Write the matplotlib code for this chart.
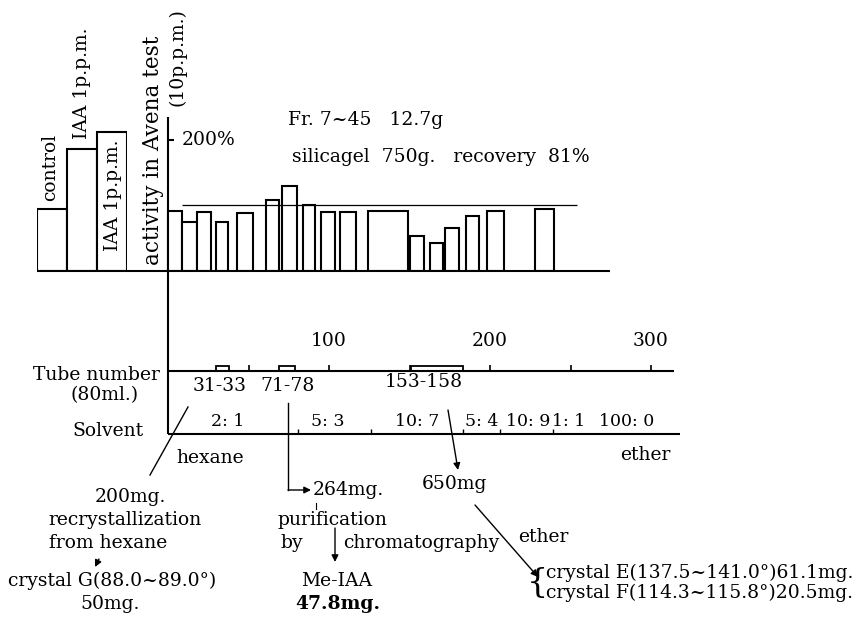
import matplotlib
matplotlib.use("Agg")
import matplotlib.pyplot as plt
from matplotlib.patches import Rectangle

plt.rcParams['font.family'] = ['DejaVu Serif']
plt.rcParams['font.size'] = 13.5

#-------data-------
# standards (activity %, Avena test)
std_names = ["control", "IAA 1p.p.m.", "IAA 1p.p.m."]
std_values = [95, 186, 212]

# fractions: tube range and activity %
frac_left = [0, 9, 18, 30, 43, 61, 71, 84, 95, 107, 124, 150, 163, 172, 185, 198, 228]
frac_right = [9, 18, 27, 37, 53, 69, 80, 91, 104, 117, 149, 159, 171, 181, 193, 209, 240]
frac_values = [92, 75, 90, 75, 89, 108, 130, 101, 90, 90, 92, 53, 43, 66, 84, 92, 94]
ref_level = 101
ref_span = [9, 254]

# crystal fractions on the tube axis
box_left = [30, 69, 151]
box_right = [38, 79, 183]
box_labels = ["31-33", "71-78", "153-158"]

tube_ticks = [50, 100, 150, 200, 250, 300]
tube_labels = ["", "100", "", "200", "", "300"]

solvent_bounds = [81, 126, 183, 206, 239]
solvent_pos = [37, 99, 155, 195, 224, 249, 285]
solvent_labels = ["2: 1", "5: 3", "10: 7", "5: 4", "10: 9", "1: 1", "100: 0"]

#-------layout-------
W, H = 856, 624
X0, PX_PER_TUBE = 168, 1.61
BASE, TOP = 271, 117
xlo, xhi = (0 - X0) / PX_PER_TUBE, (W - X0) / PX_PER_TUBE
LW = 1.5

fig = plt.figure(figsize=(W / 100, H / 100), dpi=100)

# lower part (tube / solvent axes), x in tube numbers, y in pixels
ax_low = fig.add_axes([0, 0, 1, 1])
ax_low.set_xlim(xlo, xhi)
ax_low.set_ylim(H, 0)
ax_low.axis("off")

# activity bars, x in tube numbers
ax_act = fig.add_axes([0, 1 - BASE / H, 1, (BASE - TOP) / H])
ax_act.set_xlim(xlo, xhi)
ax_act.set_ylim(0, 235)
ax_act.axis("off")
ax_act.bar(frac_left, frac_values,
           width=[r - l for l, r in zip(frac_left, frac_right)],
           align="edge", facecolor="white", edgecolor="black", linewidth=LW)
ax_act.hlines(ref_level, ref_span[0], ref_span[1], color="black", linewidth=0.9)
ax_act.hlines(200, 0, 3.5, color="black", linewidth=LW)

# standard bars
ax_std = fig.add_axes([37 / W, 1 - BASE / H, 90 / W, (BASE - TOP) / H])
ax_std.set_xlim(-0.5, 2.5)
ax_std.set_ylim(0, 235)
ax_std.axis("off")
ax_std.bar(range(len(std_values)), std_values, width=1,
           facecolor="white", edgecolor="black", linewidth=LW)

# tube axis
ax_low.hlines(371, 0, 314, color="black", linewidth=LW)
ax_low.vlines(tube_ticks, 365, 371, color="black", linewidth=1.2)
for t, lab in zip(tube_ticks, tube_labels):
    ax_low.text(t, 341, lab, ha="center", va="center")
for l, r, lab in zip(box_left, box_right, box_labels):
    ax_low.add_patch(Rectangle((l, 366), r - l, 5, facecolor="white",
                               edgecolor="black", linewidth=1.3))
ax_low.text(box_left[0] + 2, 386, box_labels[0], ha="center", va="center")
ax_low.text(box_left[1] + 5, 386, box_labels[1], ha="center", va="center")
ax_low.text(box_left[2] + 8, 382, box_labels[2], ha="center", va="center")

# solvent axis
ax_low.hlines(434, 0, 318, color="black", linewidth=LW)
ax_low.vlines(solvent_bounds, 429, 434, color="black", linewidth=1.0)
for p, lab in zip(solvent_pos, solvent_labels):
    ax_low.text(p, 421, lab, ha="center", va="center", fontsize=12.5)

# y axis line through all panels
ax_low.vlines(0, TOP, 434, color="black", linewidth=LW)

#-------overlay (pixel coords) for texts and flow chart-------
ov = fig.add_axes([0, 0, 1, 1])
ov.set_xlim(0, W)
ov.set_ylim(H, 0)
ov.axis("off")

ov.hlines(BASE, 37, 610, color="black", linewidth=LW)

ov.text(288, 120, "Fr. 7~45   12.7g", ha="left", va="center")
ov.text(292, 157, "silicagel  750g.   recovery  81%", ha="left", va="center")
ov.text(182, 140, "200%", ha="left", va="center")

ov.text(50, 167, std_names[0], rotation=90, ha="center", va="center")
ov.text(82, 83, std_names[1], rotation=90, ha="center", va="center")
ov.text(113, 195, std_names[2], rotation=90, ha="center", va="center")
ov.text(153, 150, "activity in Avena test", rotation=90, ha="center",
        va="center", fontsize=15.5)
ov.text(177, 57, "(10p.p.m.)", rotation=90, ha="center", va="center")

ov.text(96, 375, "Tube number", ha="center", va="center")
ov.text(105, 395, "(80ml.)", ha="center", va="center")
ov.text(108, 431, "Solvent", ha="center", va="center")
ov.text(210, 458, "hexane", ha="center", va="center")
ov.text(645, 455, "ether", ha="center", va="center")

arrow = dict(arrowstyle="-|>", color="black", lw=1.0, mutation_scale=10,
             shrinkA=0, shrinkB=0)

# hexane branch
ov.plot([188, 150], [407, 475], color="black", linewidth=1.0)
ov.text(130, 497, "200mg.", ha="center", va="center")
ov.text(125, 520, "recrystallization", ha="center", va="center")
ov.text(108, 543, "from hexane", ha="center", va="center")
ov.annotate("", xy=(95, 567), xytext=(99, 559), arrowprops=arrow)
ov.text(112, 581, "crystal G(88.0~89.0°)", ha="center", va="center")
ov.text(110, 604, "50mg.", ha="center", va="center")

# 71-78 branch
ov.plot([288, 288], [403, 490], color="black", linewidth=1.0)
ov.annotate("", xy=(311, 490), xytext=(288, 490), arrowprops=arrow)
ov.text(313, 490, "264mg.", ha="left", va="center")
ov.plot([316, 316], [503, 509], color="black", linewidth=0.8)
ov.text(332, 520, "purification", ha="center", va="center")
ov.text(292, 543, "by", ha="center", va="center")
ov.annotate("", xy=(335, 562), xytext=(335, 528), arrowprops=arrow)
ov.text(343, 543, "chromatography", ha="left", va="center")
ov.text(337, 581, "Me-IAA", ha="center", va="center")
ov.text(338, 604, "47.8mg.", ha="center", va="center", fontweight="bold")

# 153-158 branch
ov.annotate("", xy=(458, 470), xytext=(448, 410), arrowprops=arrow)
ov.text(454, 484, "650mg", ha="center", va="center")
ov.annotate("", xy=(538, 577), xytext=(475, 505), arrowprops=arrow)
ov.text(543, 537, "ether", ha="center", va="center")
ov.text(537, 583, "{", ha="center", va="center", fontsize=24)
ov.text(546, 573, "crystal E(137.5~141.0°)61.1mg.", ha="left", va="center")
ov.text(546, 593, "crystal F(114.3~115.8°)20.5mg.", ha="left", va="center")

fig.savefig("out.png", dpi=100, facecolor="white")
